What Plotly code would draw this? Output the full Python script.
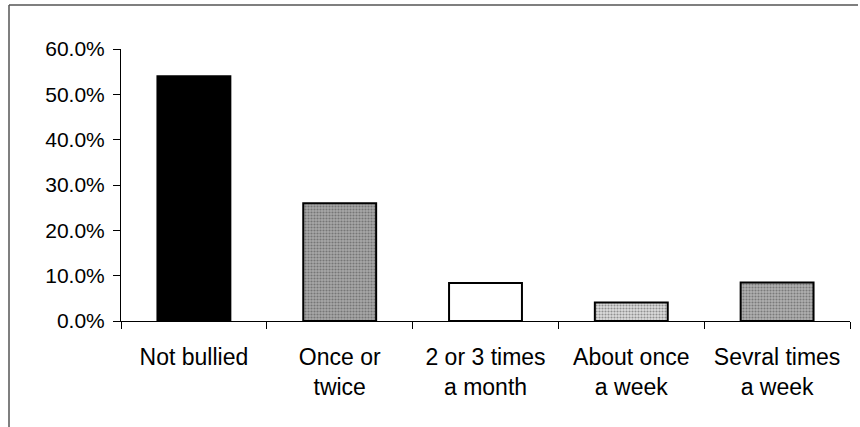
import plotly.graph_objects as go

categories = ["Not bullied", "Once or<br>twice", "2 or 3 times<br>a month", "About once<br>a week", "Sevral times<br>a week"]
values = [0.540, 0.260, 0.084, 0.041, 0.085]
bar_colors = ["#000000", "#a8a8a8", "#ffffff", "#dcdcdc", "#b0b0b0"]
dot_colors = ["#000000", "#6a6a6a", "#ffffff", "#a8a8a8", "#707070"]
patterns = ["", ".", "", ".", "."]
y_ticks = [0.0, 0.1, 0.2, 0.3, 0.4, 0.5, 0.6]

W, H = 860, 427
L, R, T, B = 121, 10, 49, 106
pw, ph = W - L - R, H - T - B

def px(x):
    return (x - L) / pw

def py(y):
    return (H - B - y) / ph

fig = go.Figure(go.Bar(
    x=categories, y=values, width=0.5,
    marker=dict(
        color=bar_colors,
        line=dict(color="#000000", width=2),
        pattern=dict(shape=patterns, fgcolor=dot_colors, bgcolor=bar_colors,
                     size=3, solidity=0.4, fillmode="overlay"),
    ),
))

fig.update_layout(
    width=W, height=H,
    margin=dict(l=L, r=R, t=T, b=B),
    paper_bgcolor="white", plot_bgcolor="white",
    showlegend=False,
    font=dict(family="Liberation Sans, Arial, sans-serif", color="#000000"),
)
fig.update_yaxes(
    range=[0, 0.6], tickvals=y_ticks, tickformat=".1%",
    showgrid=False, zeroline=False,
    showline=True, linecolor="#000000", linewidth=1,
    ticks="outside", ticklen=7, tickcolor="#000000",
    tickfont=dict(size=21), ticklabelstandoff=4,
)
fig.update_xaxes(
    showgrid=False, showline=True, linecolor="#000000", linewidth=1,
    ticks="outside", ticklen=7, tickcolor="#000000", tickson="boundaries",
    tickfont=dict(size=23), ticklabelstandoff=15,
)

frame_col = "#555555"
fig.add_shape(type="line", xref="paper", yref="paper",
              x0=px(9), x1=px(858), y0=py(5), y1=py(5),
              line=dict(color=frame_col, width=1.5))
fig.add_shape(type="line", xref="paper", yref="paper",
              x0=px(9), x1=px(9), y0=py(5), y1=py(427),
              line=dict(color=frame_col, width=1.5))

fig.write_html("out.html", config={"displayModeBar": False},
               post_script="document.body.style.margin='0';document.body.style.overflow='hidden';")
